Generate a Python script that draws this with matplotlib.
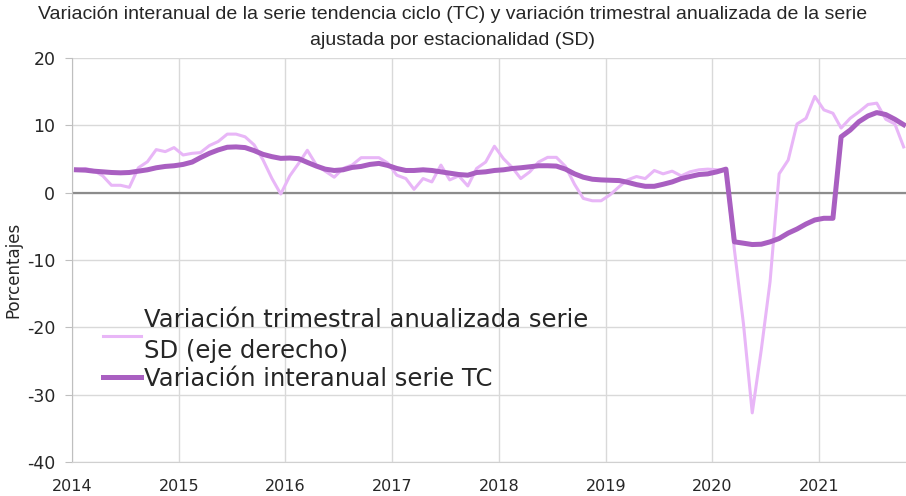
import numpy as np
import pandas as pd
import matplotlib
matplotlib.use("Agg")
import matplotlib.pyplot as plt
import matplotlib.dates as mdates

plt.rcParams["axes.unicode_minus"] = False

# ── Data (monthly, Jan 2014 - Oct 2021) ───────────────────────────────────────
MONTHS = pd.date_range("2014-01-01", "2021-10-01", freq="MS") + pd.Timedelta(days=15)

SD_TRIM = [
    3.4, 3.6, 3.3, 2.5, 1.1, 1.1, 0.8, 3.7, 4.6, 6.4, 6.1, 6.7,          # 2014
    5.6, 5.85, 5.95, 7.0, 7.6, 8.7, 8.7, 8.3, 7.1, 4.9, 2.1, -0.2,       # 2015
    2.5, 4.4, 6.3, 4.1, 3.2, 2.3, 3.6, 4.1, 5.2, 5.2, 5.2, 4.4,          # 2016
    2.6, 2.1, 0.5, 2.1, 1.6, 4.1, 1.9, 2.5, 1.0, 3.6, 4.55, 6.9,         # 2017
    5.05, 3.7, 2.1, 3.1, 4.55, 5.25, 5.25, 3.9, 1.25, -0.85, -1.2, -1.2, # 2018
    -0.3, 0.9, 1.9, 2.4, 2.1, 3.3, 2.8, 3.2, 2.5, 3.1, 3.4, 3.5,         # 2019
    3.4, 3.4, -8.5, -19.5, -32.7, -23.3, -13.2, 2.8, 4.85, 10.2, 11.05, 14.3,  # 2020
    12.3, 11.8, 9.6, 11.05, 12.0, 13.1, 13.3, 10.9, 10.2, 6.8,           # 2021
]

TC_INTER = [
    3.4, 3.35, 3.2, 3.1, 3.0, 2.95, 3.0, 3.2, 3.4, 3.7, 3.9, 4.0,        # 2014
    4.2, 4.55, 5.2, 5.85, 6.35, 6.75, 6.8, 6.7, 6.25, 5.7, 5.35, 5.1,    # 2015
    5.15, 5.05, 4.5, 3.95, 3.5, 3.3, 3.4, 3.75, 3.9, 4.2, 4.35, 4.05,    # 2016
    3.6, 3.3, 3.3, 3.4, 3.3, 3.1, 2.9, 2.7, 2.6, 3.0, 3.1, 3.3,          # 2017
    3.4, 3.6, 3.7, 3.85, 4.0, 4.0, 3.95, 3.5, 2.8, 2.3, 2.0, 1.9,        # 2018
    1.85, 1.8, 1.55, 1.2, 0.95, 0.95, 1.25, 1.6, 2.1, 2.4, 2.7, 2.8,     # 2019
    3.1, 3.5, -7.3, -7.5, -7.7, -7.65, -7.3, -6.8, -6.0, -5.4, -4.65, -4.05,  # 2020
    -3.8, -3.8, 8.3, 9.3, 10.55, 11.4, 11.9, 11.6, 10.9, 10.1,           # 2021
]

LABEL_SD = "Variación trimestral anualizada serie\nSD (eje derecho)"
LABEL_TC = "Variación interanual serie TC"
TITLE = ("Variación interanual de la serie tendencia ciclo (TC) y variación trimestral anualizada de la serie\n"
         "ajustada por estacionalidad (SD)")

Y_TICKS = [-40, -30, -20, -10, 0, 10, 20]

# ── Style ─────────────────────────────────────────────────────────────────────
STYLE = {
    "tc_color": "#A95FC1",
    "sd_color": "#E8B6F7",
    "grid": "#D9D9D9",
    "zero": "#8C8C8C",
    "text": "#262626",
}

fig = plt.figure(figsize=(9.06, 4.96), dpi=100)
ax = fig.add_axes([0.0795, 0.0685, 0.9205, 0.8145])

ax.plot(MONTHS, SD_TRIM, color=STYLE["sd_color"], lw=2.2,
        solid_joinstyle="round", label=LABEL_SD, zorder=3)
ax.plot(MONTHS, TC_INTER, color=STYLE["tc_color"], lw=3.6,
        solid_joinstyle="round", label=LABEL_TC, zorder=4)

ax.axhline(0, color=STYLE["zero"], lw=1.6, zorder=2)

ax.set_ylim(-40, 20)
ax.set_yticks(Y_TICKS)
ax.set_xlim(pd.Timestamp("2014-01-01"), pd.Timestamp("2021-10-24"))
ax.xaxis.set_major_locator(mdates.YearLocator())
ax.xaxis.set_major_formatter(mdates.DateFormatter("%Y"))

ax.grid(True, color=STYLE["grid"], lw=1.0, zorder=0)
for side in ("top", "right"):
    ax.spines[side].set_visible(False)
ax.spines["left"].set_color("#BFBFBF")
ax.spines["bottom"].set_color("#D0D0D0")

ax.tick_params(axis="y", length=5, color="#BFBFBF", labelsize=12.5,
               labelcolor=STYLE["text"], pad=7)
ax.tick_params(axis="x", length=0, labelsize=11.5, labelcolor=STYLE["text"], pad=12)
for lbl in ax.get_xticklabels() + ax.get_yticklabels():
    lbl.set_family(["DejaVu Sans"])

ax.set_ylabel("Porcentajes", fontsize=12, color=STYLE["text"], family=["DejaVu Sans"])
ax.yaxis.set_label_coords(-0.06, 0.475)

fig.suptitle(TITLE, x=0.5, y=0.988, fontsize=14, color=STYLE["text"],
             family=["Liberation Sans", "DejaVu Sans"], linespacing=1.7)

leg = ax.legend(loc="upper left", bbox_to_anchor=(0.0256, 0.406), frameon=False,
                borderaxespad=0, handlelength=1.55, handletextpad=0.15, labelspacing=0.17,
                labelcolor=STYLE["text"], prop={"family": "DejaVu Sans", "size": 17.5})
for txt in leg.get_texts():
    txt.set_linespacing(1.37)

fig.savefig("out.png", dpi=100)
plt.close(fig)
